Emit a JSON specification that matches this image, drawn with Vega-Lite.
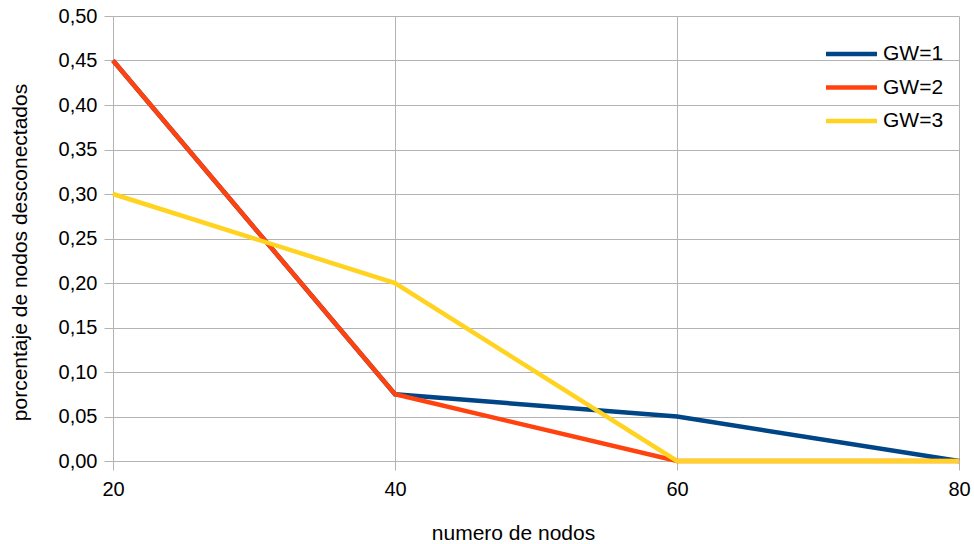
{
  "$schema": "https://vega.github.io/schema/vega-lite/v6.json",
  "width": 846,
  "height": 445,
  "autosize": {"type": "none"},
  "padding": {"left": 113, "top": 16, "right": 15, "bottom": 83},
  "background": "#ffffff",
  "config": {
    "font": "Liberation Sans",
    "view": {"stroke": null},
    "axis": {
      "gridColor": "#b3b3b3",
      "gridWidth": 1,
      "domainColor": "#b3b3b3",
      "domainWidth": 1,
      "tickColor": "#b3b3b3",
      "tickSize": 9,
      "labelColor": "#000000",
      "labelFont": "Liberation Sans",
      "labelFontSize": 20,
      "titleColor": "#000000",
      "titleFont": "Liberation Sans",
      "titleFontSize": 21,
      "titleFontWeight": "normal"
    }
  },
  "data": {
    "values": [
      {"nodos": 20, "valor": 0.45, "serie": "GW=1"},
      {"nodos": 40, "valor": 0.075, "serie": "GW=1"},
      {"nodos": 60, "valor": 0.05, "serie": "GW=1"},
      {"nodos": 80, "valor": 0.0, "serie": "GW=1"},
      {"nodos": 20, "valor": 0.45, "serie": "GW=2"},
      {"nodos": 40, "valor": 0.075, "serie": "GW=2"},
      {"nodos": 60, "valor": 0.0, "serie": "GW=2"},
      {"nodos": 80, "valor": 0.0, "serie": "GW=2"},
      {"nodos": 20, "valor": 0.3, "serie": "GW=3"},
      {"nodos": 40, "valor": 0.2, "serie": "GW=3"},
      {"nodos": 60, "valor": 0.0, "serie": "GW=3"},
      {"nodos": 80, "valor": 0.0, "serie": "GW=3"}
    ]
  },
  "mark": {"type": "line", "strokeWidth": 4.5, "strokeJoin": "miter", "strokeCap": "butt"},
  "encoding": {
    "x": {
      "field": "nodos",
      "type": "quantitative",
      "scale": {"domain": [20, 80], "nice": false, "zero": false},
      "axis": {
        "values": [20, 40, 60, 80],
        "title": "numero de nodos",
        "labelPadding": 9,
        "labelFlush": false,
        "labelOverlap": false,
        "titleX": 400,
        "titleY": 72,
        "titleAlign": "center",
        "titleBaseline": "middle",
        "titleAnchor": null
      }
    },
    "y": {
      "field": "valor",
      "type": "quantitative",
      "scale": {"domain": [0, 0.5], "nice": false},
      "axis": {
        "values": [0, 0.05, 0.1, 0.15, 0.2, 0.25, 0.3, 0.35, 0.4, 0.45, 0.5],
        "labelExpr": "replace(format(datum.value, '.2f'), '.', ',')",
        "labelPadding": 7,
        "labelFlush": false,
        "labelOverlap": false,
        "title": "porcentaje de nodos desconectados",
        "titleX": -93,
        "titleY": 236,
        "titleAngle": -90,
        "titleAlign": "center",
        "titleBaseline": "middle"
      }
    },
    "color": {
      "field": "serie",
      "type": "nominal",
      "scale": {"domain": ["GW=1", "GW=2", "GW=3"], "range": ["#004586", "#ff420e", "#ffd320"]},
      "legend": {
        "title": null,
        "orient": "none",
        "legendX": 723.5,
        "legendY": 23,
        "padding": 0,
        "symbolType": "M-2,0H2",
        "symbolSize": 650,
        "symbolStrokeWidth": 4.5,
        "rowPadding": 8.5,
        "labelOffset": 16.5,
        "labelFontSize": 21,
        "labelColor": "#000000",
        "labelFont": "Liberation Sans"
      }
    }
  }
}
